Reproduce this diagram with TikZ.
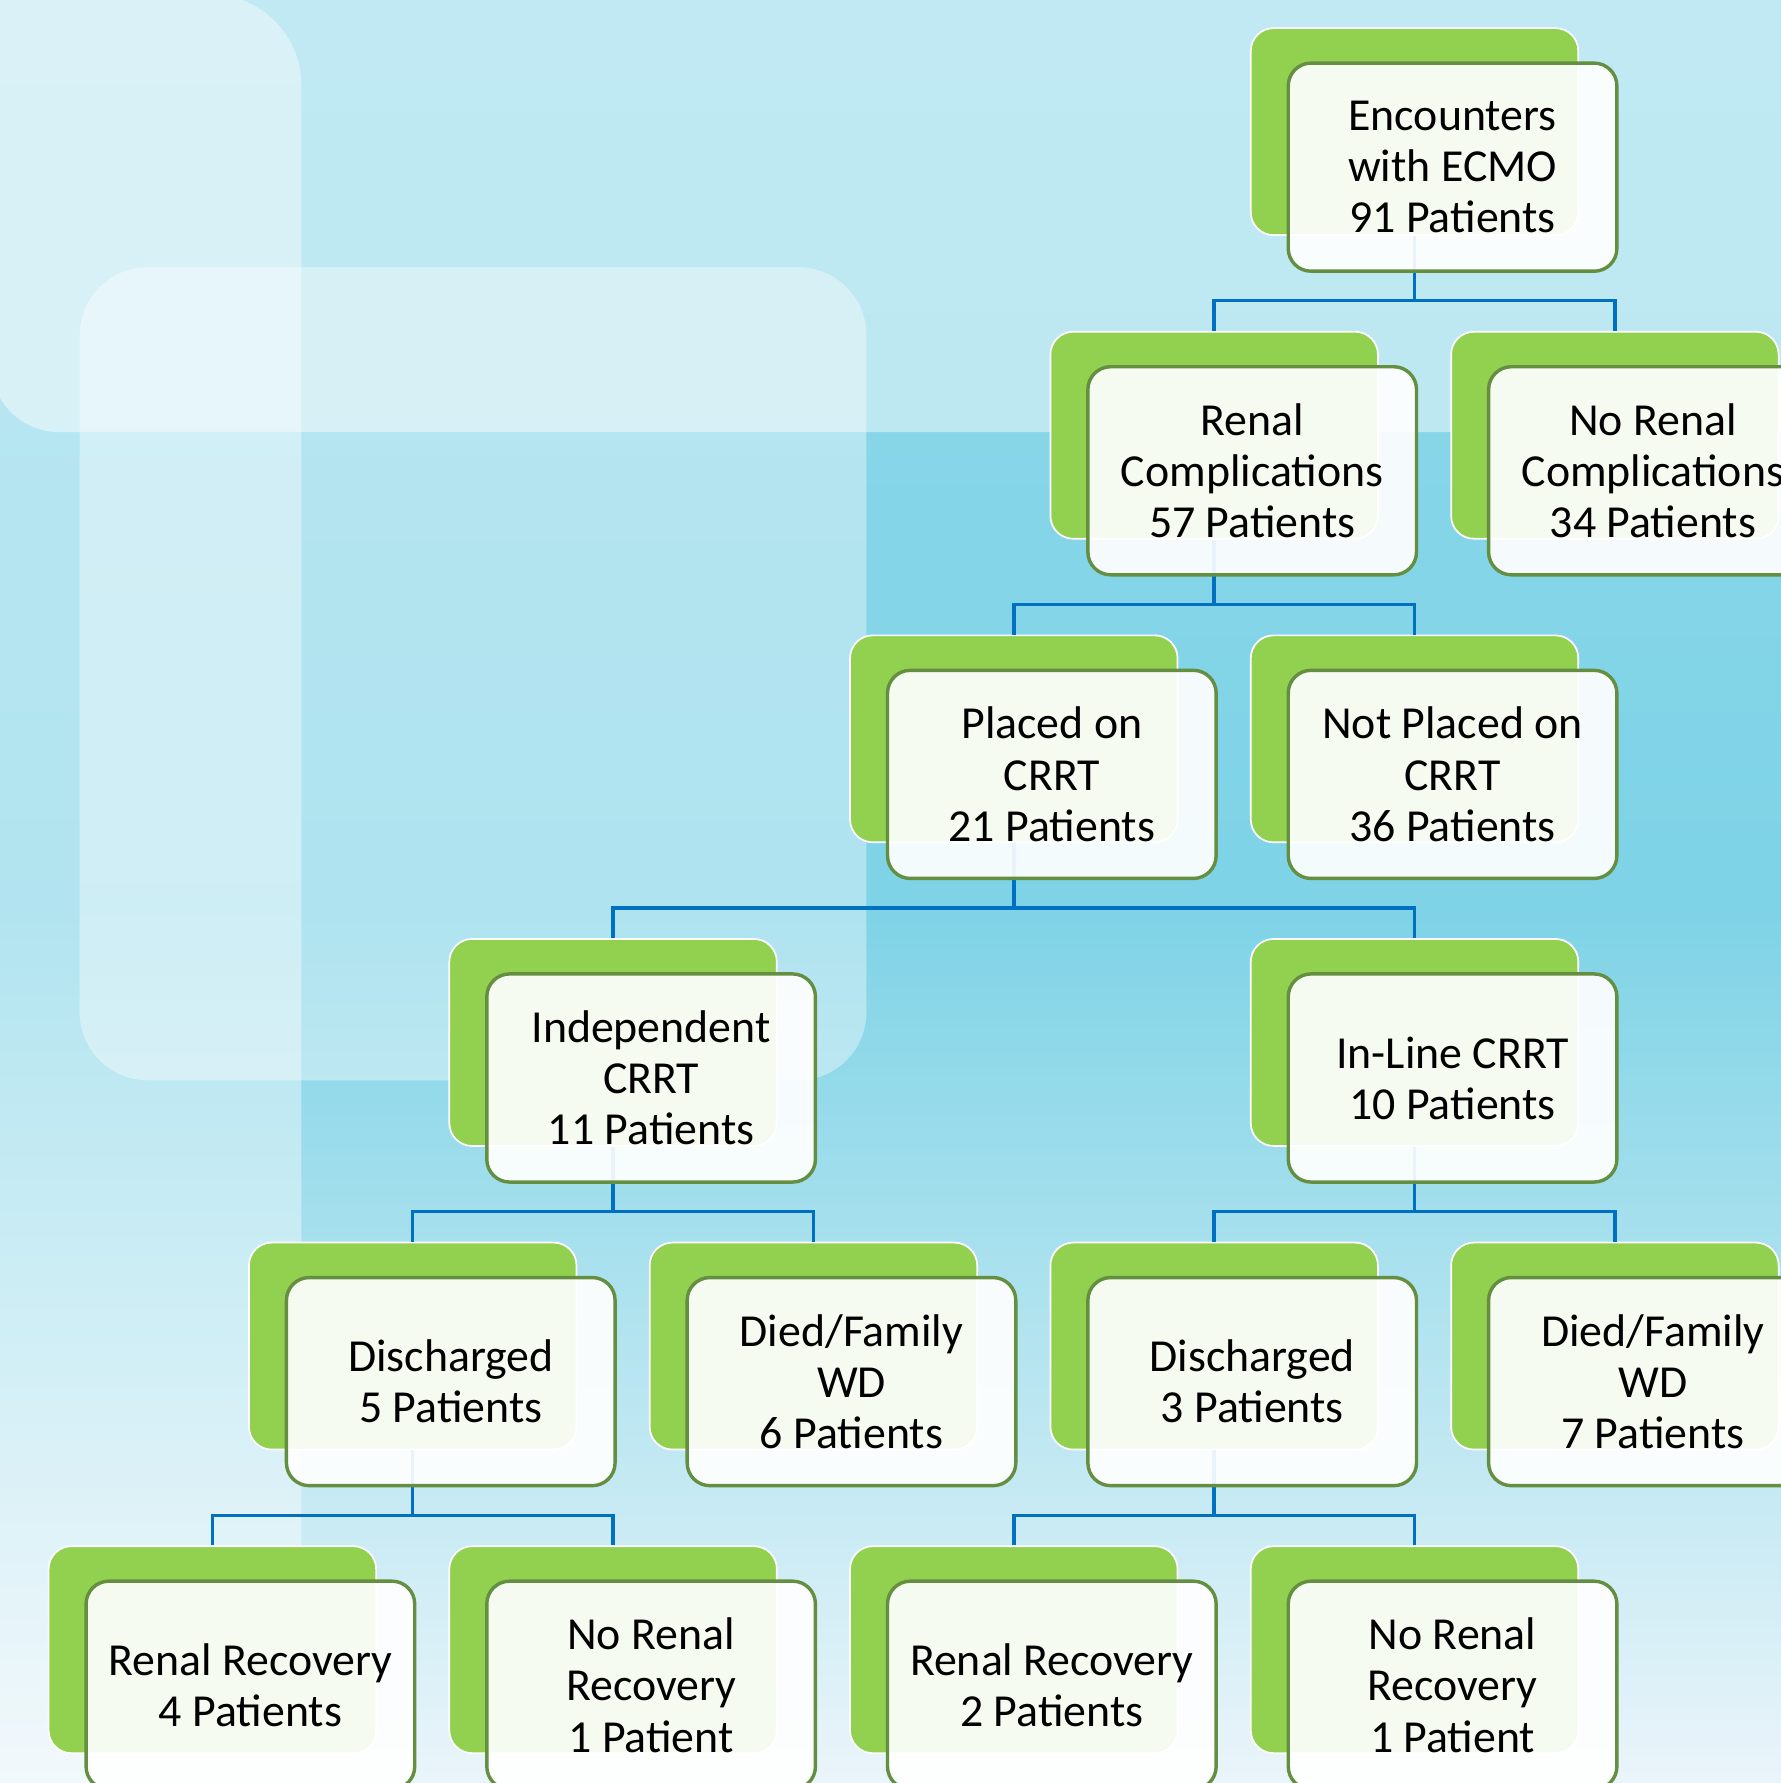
\documentclass[tikz,border=0pt]{standalone}
\usepackage{fontspec}
\setmainfont{Carlito}
\usetikzlibrary{calc}
\definecolor{gfill}{HTML}{92D050}
\definecolor{wdraw}{HTML}{648E40}
\definecolor{connc}{HTML}{0070C0}
\definecolor{bgtop}{HTML}{8ED8EA}
\definecolor{bgmid}{HTML}{7ED3E6}
\definecolor{bgbot}{HTML}{EAF5FA}
\pgfdeclarelayer{bgl}
\pgfdeclarelayer{back}
\pgfsetlayers{bgl,back,main}
\newcommand{\duo}[4]{%
  \begin{pgfonlayer}{back}\node[gbox] (g#1) at ({42+176.2*#2},{24+267*#3}) {};\end{pgfonlayer}
  \node[wbox] (w#1) at ({74.2+176.2*#2},{54+267*#3}) {#4};}
\newcommand{\linkto}[2]{\begin{pgfonlayer}{back}\draw[link] (g#1.south) -- ++(0,57) -| (g#2.north);\end{pgfonlayer}}
\begin{document}
\begin{tikzpicture}[x=1pt,y=-1pt,
  gbox/.style={draw=white, line width=1.5pt, fill=gfill, rounded corners=20pt,
    minimum width=288pt, minimum height=182pt, anchor=north west, inner sep=0pt},
  wbox/.style={draw=wdraw, line width=3pt, fill=white, fill opacity=0.92, text opacity=1,
    rounded corners=20pt, minimum width=289pt, minimum height=183pt, anchor=north west,
    align=center, font=\fontsize{40.3}{45}\selectfont, inner sep=0pt},
  link/.style={draw=connc, line width=3pt},
  glow/.style={fill=white, draw=none}]
\clip (0,0) rectangle (1566,1568);
\useasboundingbox (0,0) rectangle (1566,1568);
\begin{pgfonlayer}{bgl}
  \shade[top color=bgtop, bottom color=bgmid] (-1,-1) rectangle (1567,801);
  \shade[top color=bgmid, bottom color=bgbot] (-1,800) rectangle (1567,1569);
  \fill[glow, fill opacity=0.45, rounded corners=60pt] (-8,-200) rectangle (1800,380);
  \fill[glow, fill opacity=0.4, rounded corners=80pt] (-200,-5) rectangle (265,1800);
  \fill[glow, fill opacity=0.38, rounded corners=60pt] (70,235) rectangle (762,950);
\end{pgfonlayer}
% row 0
\duo{a}{6}{0}{Encounters\\with ECMO\\91 Patients}
% row 1
\duo{b}{5}{1}{Renal\\Complications\\57 Patients}
\duo{c}{7}{1}{No Renal\\Complications\\34 Patients}
% row 2
\duo{d}{4}{2}{Placed on\\CRRT\\21 Patients}
\duo{e}{6}{2}{Not Placed on\\CRRT\\36 Patients}
% row 3
\duo{f}{2}{3}{Independent\\CRRT\\11 Patients}
\duo{h}{6}{3}{In-Line CRRT\\10 Patients}
% row 4
\duo{i}{1}{4}{Discharged\\5 Patients}
\duo{j}{3}{4}{Died/Family\\WD\\6 Patients}
\duo{k}{5}{4}{Discharged\\3 Patients}
\duo{l}{7}{4}{Died/Family\\WD\\7 Patients}
% row 5
\duo{m}{0}{5}{Renal Recovery\\4 Patients}
\duo{n}{2}{5}{No Renal\\Recovery\\1 Patient}
\duo{o}{4}{5}{Renal Recovery\\2 Patients}
\duo{p}{6}{5}{No Renal\\Recovery\\1 Patient}
% connectors
\linkto{a}{b}\linkto{a}{c}
\linkto{b}{d}\linkto{b}{e}
\linkto{d}{f}\linkto{d}{h}
\linkto{f}{i}\linkto{f}{j}
\linkto{h}{k}\linkto{h}{l}
\linkto{i}{m}\linkto{i}{n}
\linkto{k}{o}\linkto{k}{p}
\end{tikzpicture}
\end{document}
